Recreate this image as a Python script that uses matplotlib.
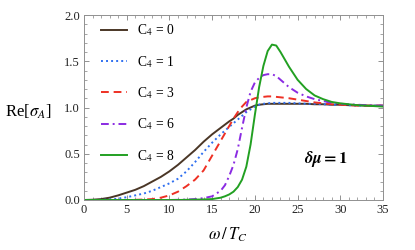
import matplotlib
matplotlib.use("Agg")
import matplotlib.pyplot as plt
from matplotlib.ticker import MultipleLocator, FormatStrFormatter

plt.rcParams['font.family'] = ['Liberation Serif', 'DejaVu Serif']
plt.rcParams['mathtext.fontset'] = 'stix'

x = [0, 1, 2, 3, 4, 5, 6, 7, 8, 9, 10, 11, 12, 13, 14, 15, 16, 16.5, 17, 17.5, 18, 18.5,
     19, 19.5, 20, 20.5, 21, 21.5, 22, 22.5, 23, 23.5, 24, 25, 26, 27, 28, 29, 30, 31,
     32, 33, 34, 35]

c0 = [0.0, 0.003, 0.01, 0.025, 0.05, 0.08, 0.11, 0.15, 0.20, 0.25, 0.31, 0.38, 0.46,
      0.54, 0.63, 0.71, 0.78, 0.815, 0.85, 0.88, 0.92, 0.95, 0.98, 1.00, 1.02, 1.03,
      1.035, 1.04, 1.04, 1.04, 1.04, 1.04, 1.04, 1.04, 1.04, 1.035, 1.035, 1.03, 1.03,
      1.025, 1.025, 1.02, 1.02, 1.02]
c1 = [0.0, 0.0, 0.002, 0.005, 0.015, 0.03, 0.05, 0.07, 0.10, 0.14, 0.18, 0.23, 0.31,
      0.41, 0.52, 0.62, 0.71, 0.75, 0.79, 0.83, 0.87, 0.91, 0.95, 0.98, 1.01, 1.03,
      1.04, 1.045, 1.05, 1.05, 1.05, 1.05, 1.05, 1.045, 1.04, 1.04, 1.035, 1.03, 1.03,
      1.025, 1.02, 1.02, 1.02, 1.02]
c3 = [0.0, 0.0, 0.0, 0.0, 0.0, 0.0, 0.002, 0.005, 0.01, 0.025, 0.05, 0.09, 0.15, 0.22,
      0.32, 0.48, 0.64, 0.72, 0.80, 0.88, 0.95, 1.01, 1.06, 1.08, 1.10, 1.11, 1.115,
      1.12, 1.12, 1.115, 1.11, 1.105, 1.10, 1.085, 1.07, 1.055, 1.045, 1.035, 1.03,
      1.025, 1.02, 1.02, 1.02, 1.02]
c6 = [0.0, 0.0, 0.0, 0.0, 0.0, 0.0, 0.0, 0.0, 0.0, 0.0, 0.0, 0.002, 0.005, 0.01, 0.02,
      0.04, 0.10, 0.16, 0.26, 0.38, 0.55, 0.78, 1.00, 1.17, 1.27, 1.32, 1.35, 1.36, 1.36,
      1.34, 1.30, 1.26, 1.22, 1.16, 1.12, 1.09, 1.07, 1.05, 1.04, 1.035, 1.03, 1.025,
      1.02, 1.02]
c8 = [0.0, 0.0, 0.0, 0.0, 0.0, 0.0, 0.0, 0.0, 0.0, 0.0, 0.0, 0.0, 0.002, 0.004, 0.006,
      0.01, 0.025, 0.04, 0.06, 0.09, 0.14, 0.22, 0.36, 0.60, 0.92, 1.22, 1.45, 1.61,
      1.68, 1.67, 1.60, 1.52, 1.44, 1.30, 1.20, 1.13, 1.09, 1.06, 1.045, 1.035, 1.025,
      1.02, 1.015, 1.01]

labels = [r'C$_4$ = 0', r'C$_4$ = 1', r'C$_4$ = 3', r'C$_4$ = 6', r'C$_4$ = 8']
colors = ['#4a3626', '#2f6ff0', '#ee3024', '#8a2be2', '#22a022']
styles = ['-', (0, (1, 1.6)), (0, (4, 2.5)), (0, (4, 2, 1, 2)), '-']

fig = plt.figure(figsize=(4.15, 2.5), dpi=100)
ax = fig.add_axes([84 / 415, 50 / 250, 299 / 415, 185 / 250])

for ys, lab, col, ls in zip([c0, c1, c3, c6, c8], labels, colors, styles):
    ax.plot(x, ys, color=col, ls=ls, lw=1.4, label=lab)

ax.set_xlim(0, 35)
ax.set_ylim(0, 2.0)
ax.xaxis.set_major_locator(MultipleLocator(5))
ax.xaxis.set_minor_locator(MultipleLocator(1))
ax.yaxis.set_major_locator(MultipleLocator(0.5))
ax.yaxis.set_minor_locator(MultipleLocator(0.1))
ax.yaxis.set_major_formatter(FormatStrFormatter('%.1f'))
ax.tick_params(which='both', direction='in', top=True, right=True, colors='#808080',
               labelcolor='#222222', labelsize=9, pad=3)
ax.tick_params(which='major', length=3.5, width=0.6)
ax.tick_params(which='minor', length=2, width=0.5)
for s in ax.spines.values():
    s.set_color('#909090')
    s.set_linewidth(0.7)

leg = ax.legend(loc='upper left', bbox_to_anchor=(0.037, 0.99), frameon=False, fontsize=9.8,
                handlelength=1.95, handletextpad=0.7, labelspacing=1.15, borderaxespad=0)

fig.text(5 / 415, 1 - 112 / 250, r'Re[$\sigma_{A}$]', fontsize=12, va='center', ha='left')
fig.text(228 / 415, 1 - 235 / 250, r'$\omega\,/\,T_{C}$', fontsize=12, va='center', ha='center')
ax.text(28.3, 0.44, r'$\boldsymbol{\delta\mu}\mathbf{=1}$', fontsize=12, va='center', ha='center')

fig.savefig('out.png', dpi=100)
